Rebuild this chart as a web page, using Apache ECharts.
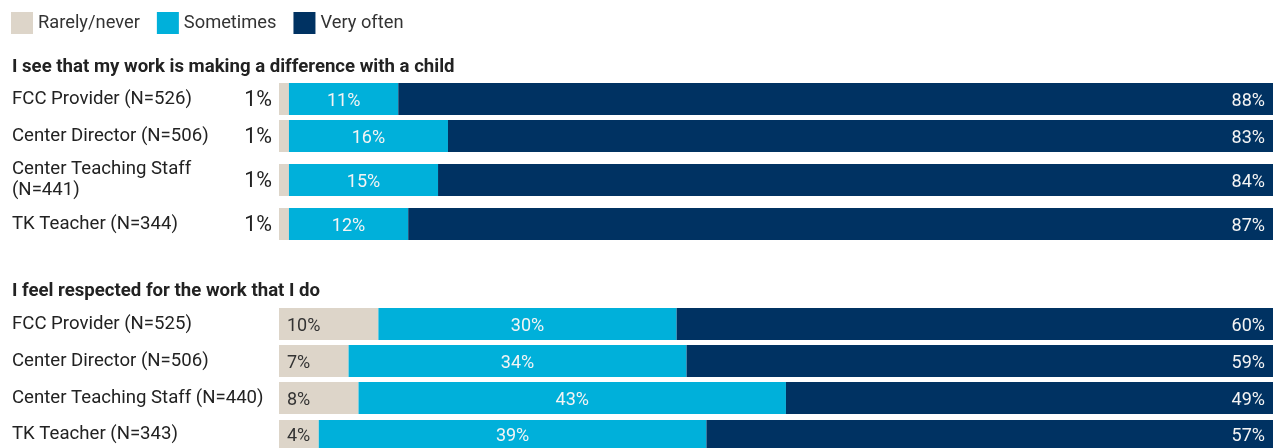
<!DOCTYPE html>
<html>
<head>
<meta charset="utf-8">
<script src="https://cdn.jsdelivr.net/npm/echarts@6/dist/echarts.min.js"></script>
<style>
html,body{margin:0;padding:0;background:#fff;}
#chart{width:1275px;height:448px;}
</style>
</head>
<body>
<div id="chart"></div>
<script>
const seriesNames = ['Rarely/never', 'Sometimes', 'Very often'];
const colors = ['#ddd5c9', '#00b0da', '#003262'];

const title1 = 'I see that my work is making a difference with a child';
const cats1 = ['FCC Provider (N=526)', 'Center Director (N=506)', 'Center Teaching Staff\n(N=441)', 'TK Teacher (N=344)'];
const rarely1 = [1, 1, 1, 1];
const sometimes1 = [11, 16, 15, 12];
const veryOften1 = [88, 83, 84, 87];

const title2 = 'I feel respected for the work that I do';
const cats2 = ['FCC Provider (N=525)', 'Center Director (N=506)', 'Center Teaching Staff (N=440)', 'TK Teacher (N=343)'];
const rarely2 = [10, 7, 8, 4];
const sometimes2 = [30, 34, 43, 39];
const veryOften2 = [60, 59, 49, 57];

// layout (pixel tops of each row's bar)
const rowTops1 = [83, 120, 164, 208];
const rowTops2 = [308, 345, 382, 420];
const barH = 32;
const FONT = 'Roboto, "Noto Sans", sans-serif';

const grids = [], xAxes = [], yAxes = [], series = [];

function addPanel(cats, rarely, some, very, tops, rarelyOutside) {
  cats.forEach((c, i) => {
    const gi = grids.length;
    grids.push({left: 279, right: 2, top: tops[i], height: barH, containLabel: false});
    xAxes.push({type: 'value', gridIndex: gi, min: 0, max: 100, show: false});
    yAxes.push({
      type: 'category', gridIndex: gi, data: [c],
      axisLine: {show: false}, axisTick: {show: false}, splitLine: {show: false},
      axisLabel: {align: 'left', margin: 267, fontSize: 18.6, lineHeight: 21, color: '#222', fontFamily: FONT, padding: [6, 0, 0, 0]}
    });
    const vals = [rarely[i], some[i], very[i]];
    vals.forEach((v, k) => {
      let label;
      if (k === 0) {
        label = rarelyOutside
          ? {show: true, position: 'left', distance: 7, offset: [0, 2], fontSize: 21.5, color: '#222', fontFamily: FONT, formatter: '{c}%'}
          : {show: true, position: 'insideLeft', distance: 8, offset: [0, 2], fontSize: 18, color: '#333', fontFamily: FONT, formatter: '{c}%'};
      } else if (k === 1) {
        label = {show: true, position: 'inside', offset: [0, 2], fontSize: 18, color: '#f4f4f4', fontFamily: FONT, formatter: '{c}%'};
      } else {
        label = {show: true, position: 'insideRight', distance: 8, offset: [0, 2], fontSize: 18, color: '#f4f4f4', fontFamily: FONT, formatter: '{c}%'};
      }
      series.push({
        name: seriesNames[k], type: 'bar', stack: 's' + gi,
        xAxisIndex: gi, yAxisIndex: gi,
        barWidth: '100%', data: [v],
        itemStyle: {color: colors[k]},
        label: label, silent: true, animation: false
      });
    });
  });
}

addPanel(cats1, rarely1, sometimes1, veryOften1, rowTops1, true);
addPanel(cats2, rarely2, sometimes2, veryOften2, rowTops2, false);

const chart = echarts.init(document.getElementById('chart'));
chart.setOption({
  animation: false,
  color: colors,
  legend: {
    data: seriesNames, left: 11, top: 12, padding: 0,
    icon: 'rect', itemWidth: 22, itemHeight: 22, itemGap: 17,
    textStyle: {fontSize: 18.3, color: '#333', fontFamily: FONT},
    selectedMode: false
  },
  title: [
    {text: title1, left: 12, top: 58, padding: 0, textStyle: {fontSize: 18.6, fontWeight: 'bold', color: '#222', fontFamily: FONT}},
    {text: title2, left: 12, top: 282, padding: 0, textStyle: {fontSize: 18.6, fontWeight: 'bold', color: '#222', fontFamily: FONT}}
  ],
  grid: grids, xAxis: xAxes, yAxis: yAxes, series: series
});
</script>
</body>
</html>
